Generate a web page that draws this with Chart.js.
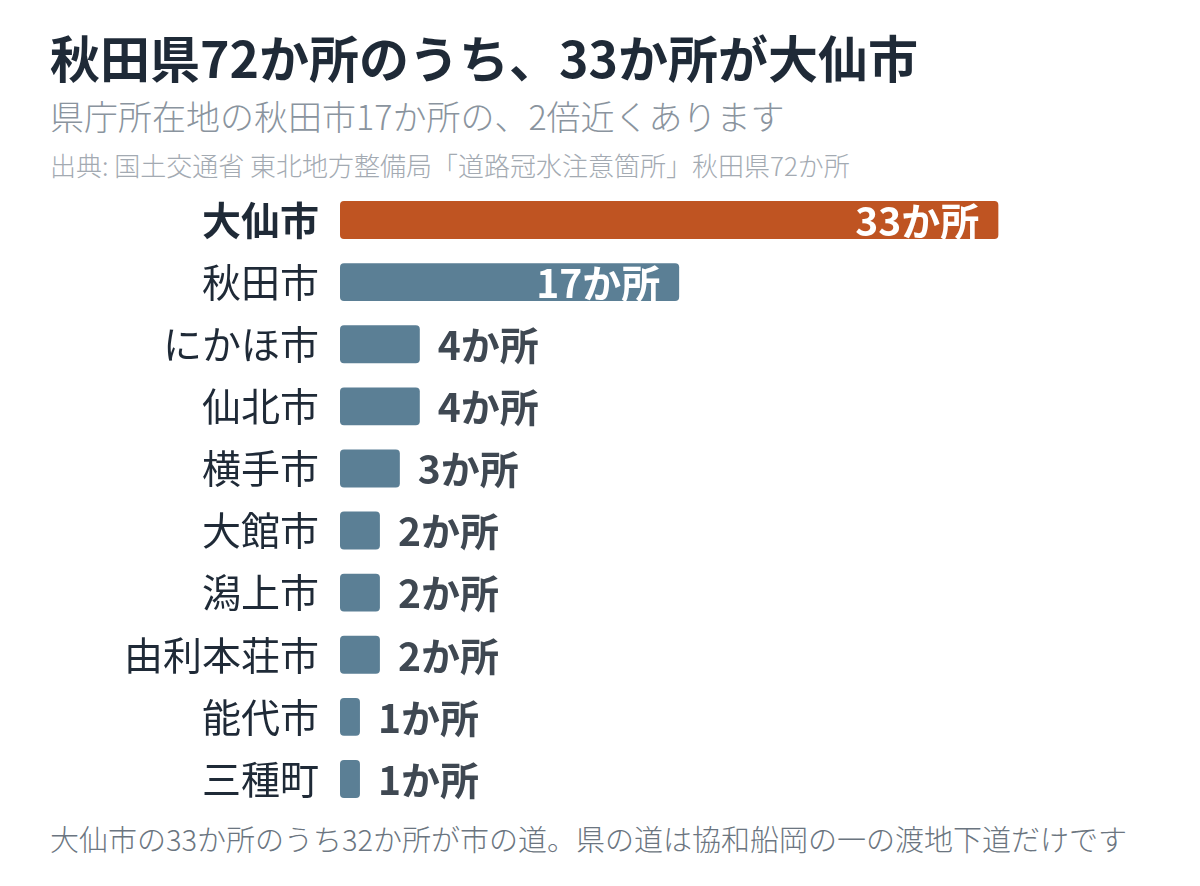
<!DOCTYPE html>
<html lang="ja">
<head>
<meta charset="utf-8">
<script src="https://cdn.jsdelivr.net/npm/chart.js@4.4.1/dist/chart.umd.min.js"></script>
<style>
  html, body { margin: 0; padding: 0; background: #ffffff; }
  body { width: 1200px; height: 886px; position: relative; overflow: hidden;
         font-family: "Noto Sans CJK JP", "Noto Sans", sans-serif; }
  .txt { position: absolute; left: 50px; white-space: nowrap; }
  #title { top: 20px; font-size: 50px; font-weight: 700; color: #1f2a37; }
  #subtitle { top: 91px; font-size: 34px; font-weight: 300; color: #8a949e; }
  #source { top: 146px; font-size: 26px; font-weight: 300; color: #a3aab2; }
  #footer { top: 817px; font-size: 29px; font-weight: 300; color: #6b7580; }
  #wrap { position: absolute; left: 0; top: 189px; width: 1200px; height: 621px; }
</style>
</head>
<body>
<div class="txt" id="title">秋田県72か所のうち、33か所が大仙市</div>
<div class="txt" id="subtitle">県庁所在地の秋田市17か所の、2倍近くあります</div>
<div class="txt" id="source">出典: 国土交通省 東北地方整備局「道路冠水注意箇所」秋田県72か所</div>
<div class="txt" id="footer">大仙市の33か所のうち32か所が市の道。県の道は協和船岡の一の渡地下道だけです</div>
<div id="wrap"><canvas id="c"></canvas></div>
<script>
const categories = ["大仙市", "秋田市", "にかほ市", "仙北市", "横手市", "大館市", "潟上市", "由利本荘市", "能代市", "三種町"];
const counts = [33, 17, 4, 4, 3, 2, 2, 2, 1, 1];
const unitLabel = "か所";
const xMax = 40;

const ORANGE = "#bf5422";
const BLUE = "#5b7f95";
const FONT = '"Noto Sans CJK JP", "Noto Sans", sans-serif';

const valueLabels = {
  id: "valueLabels",
  afterDatasetsDraw(chart) {
    const ctx = chart.ctx;
    const meta = chart.getDatasetMeta(0);
    ctx.save();
    ctx.textBaseline = "middle";
    ctx.font = "700 39px " + FONT;
    meta.data.forEach((bar, i) => {
      const v = counts[i];
      const label = v + unitLabel;
      if (v >= 10) {
        ctx.fillStyle = "#ffffff";
        ctx.textAlign = "right";
        ctx.fillText(label, bar.x - 19, bar.y + 1);
      } else {
        ctx.fillStyle = "#3f4852";
        ctx.textAlign = "left";
        ctx.fillText(label, bar.x + 18, bar.y + 1);
      }
    });
    ctx.restore();
  }
};

new Chart(document.getElementById("c"), {
  type: "bar",
  data: {
    labels: categories,
    datasets: [{
      data: counts,
      backgroundColor: (c) => c.dataIndex === 0 ? ORANGE : BLUE,
      borderRadius: 4,
      borderSkipped: false,
      categoryPercentage: 1.0,
      barPercentage: 0.61
    }]
  },
  options: {
    indexAxis: "y",
    responsive: true,
    maintainAspectRatio: false,
    animation: false,
    layout: { padding: { left: 0, right: 62, top: 0, bottom: 0 } },
    plugins: { legend: { display: false }, tooltip: { enabled: false } },
    scales: {
      x: { display: false, min: 0, max: xMax },
      y: {
        grid: { display: false, drawTicks: false },
        border: { display: false },
        ticks: {
          padding: 21,
          color: "#1f2a37",
          font: (c) => ({ family: FONT, size: 39, weight: c.index === 0 ? "700" : "400" })
        },
        afterFit(scale) {
          scale.width = 340;
          scale.paddingTop = 0;
          scale.paddingBottom = 0;
        }
      }
    }
  },
  plugins: [valueLabels]
});
</script>
</body>
</html>
